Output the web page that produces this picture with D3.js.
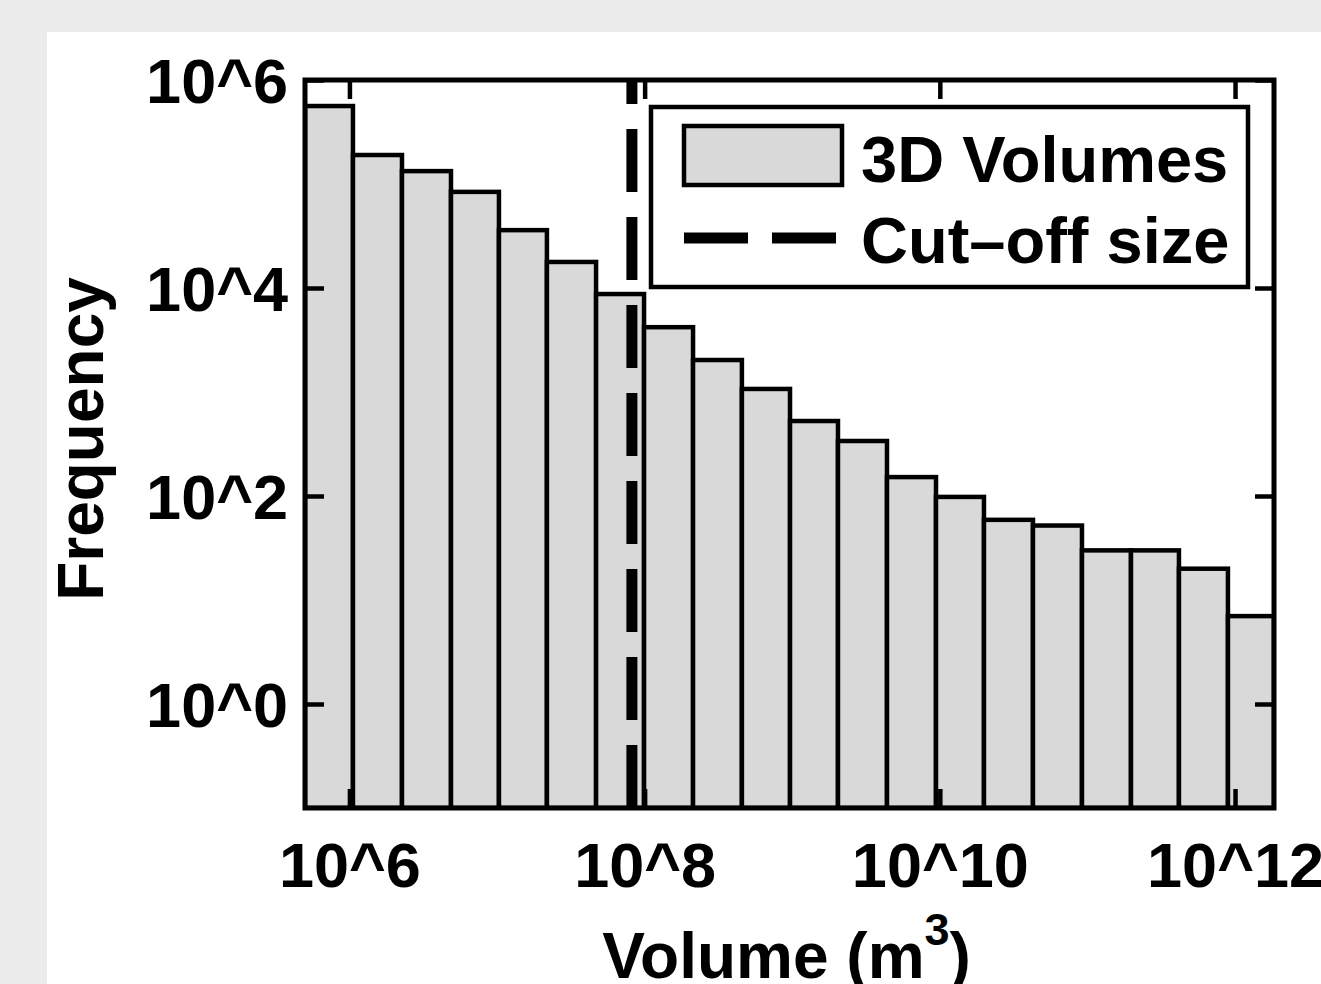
<!DOCTYPE html>
<html>
<head>
<meta charset="utf-8">
<script src="https://cdn.jsdelivr.net/npm/d3@7"></script>
<style>
  html, body { margin: 0; padding: 0; background: #ebebeb; }
  svg { display: block; }
  text { font-family: "Liberation Sans", Arial, Helvetica, sans-serif; font-weight: bold; fill: #000; }
</style>
</head>
<body>
<div id="chart"></div>
<script>
// Histogram bin edges, as log10 of volume (m^3)
const binEdges = [5.699, 6.024, 6.356, 6.688, 7.013, 7.338, 7.671, 7.996, 8.328, 8.659,
                  8.985, 9.310, 9.642, 9.974, 10.299, 10.631, 10.963, 11.295, 11.620, 11.952, 12.264];
// Frequency of each bin
const counts = [562000, 190000, 133000, 84000, 36000, 17800, 8750, 4200, 2030, 1070,
                526, 338, 152, 98, 59, 52, 30, 30, 20, 7];
// Cut-off size (m^3)
const cutoff = 8.2e7;
// Axis ticks
const xTicks = [1e6, 1e8, 1e10, 1e12];
const yTicks = [1e0, 1e2, 1e4, 1e6];
const xDomain = [Math.pow(10, 5.699), Math.pow(10, 12.264)];
const yDomain = [0.1, 1e6];

const W = 1321, H = 984;
const margin = { top: 80, right: 47, bottom: 176, left: 305 };
const width = W - margin.left - margin.right;
const height = H - margin.top - margin.bottom;

const svg = d3.select('#chart')
    .append('svg')
    .attr('width', W)
    .attr('height', H);

// Grey page with white figure panel
svg.append('rect').attr('width', W).attr('height', H).attr('fill', '#ebebeb');
svg.append('rect').attr('x', 47).attr('y', 32).attr('width', W).attr('height', H).attr('fill', '#fff');

const g = svg.append('g')
    .attr('transform', `translate(${margin.left},${margin.top})`);

const x = d3.scaleLog().domain(xDomain).range([0, width]);
const y = d3.scaleLog().domain(yDomain).range([height, 0]);

g.append('clipPath').attr('id', 'plot-clip')
    .append('rect').attr('width', width).attr('height', height);

const bins = counts.map((c, i) => ({ x0: Math.pow(10, binEdges[i]), x1: Math.pow(10, binEdges[i + 1]), n: c }));

// Bars
g.append('g')
    .attr('clip-path', 'url(#plot-clip)')
    .selectAll('rect')
    .data(bins)
    .enter()
    .append('rect')
    .attr('x', d => x(d.x0))
    .attr('width', d => x(d.x1) - x(d.x0))
    .attr('y', d => y(d.n))
    .attr('height', d => height - y(d.n))
    .attr('fill', '#d9d9d9')
    .attr('stroke', '#000')
    .attr('stroke-width', 4.5);

// Cut-off line, dashes start from the bottom
g.append('line')
    .attr('x1', x(cutoff)).attr('x2', x(cutoff))
    .attr('y1', height).attr('y2', 0)
    .attr('stroke', '#000')
    .attr('stroke-width', 11)
    .attr('stroke-dasharray', '63,25');

// Axes (ticks pointing inward on all four sides)
const fmt = d => '10^' + Math.round(Math.log10(d));
const tickLen = 19;

const xAxis = g.append('g')
    .attr('transform', `translate(0,${height})`)
    .call(d3.axisBottom(x).tickValues(xTicks).tickFormat(fmt)
        .tickSizeInner(-tickLen).tickSizeOuter(0).tickPadding(34));
const xAxisTop = g.append('g')
    .call(d3.axisTop(x).tickValues(xTicks).tickFormat('')
        .tickSizeInner(-tickLen).tickSizeOuter(0));
const yAxis = g.append('g')
    .call(d3.axisLeft(y).tickValues(yTicks).tickFormat(fmt)
        .tickSizeInner(-tickLen).tickSizeOuter(0).tickPadding(17));
const yAxisRight = g.append('g')
    .attr('transform', `translate(${width},0)`)
    .call(d3.axisRight(y).tickValues(yTicks).tickFormat('')
        .tickSizeInner(-tickLen).tickSizeOuter(0));

[xAxis, xAxisTop, yAxis, yAxisRight].forEach(a => {
    a.select('.domain').remove();
    a.selectAll('.tick line').attr('stroke', '#000').attr('stroke-width', 4.5);
    a.selectAll('.tick text')
        .attr('font-size', 63)
        .attr('font-family', '"Liberation Sans", Arial, sans-serif')
        .attr('font-weight', 'bold')
        .attr('fill', '#000');
});
yAxis.selectAll('.tick text').attr('dy', '0.36em');

// Frame
g.append('rect')
    .attr('width', width).attr('height', height)
    .attr('fill', 'none')
    .attr('stroke', '#000')
    .attr('stroke-width', 5);

// Axis labels
const xLabel = svg.append('text')
    .attr('x', margin.left + width / 2 - 3)
    .attr('y', 978)
    .attr('text-anchor', 'middle')
    .attr('font-size', 64);
xLabel.append('tspan').text('Volume (m');
xLabel.append('tspan').attr('font-size', 45).attr('dy', -33).text('3');
xLabel.append('tspan').attr('dy', 33).text(')');

svg.append('text')
    .attr('transform', `translate(103,${margin.top + height / 2 - 5}) rotate(-90)`)
    .attr('text-anchor', 'middle')
    .attr('font-size', 64)
    .text('Frequency');

// Legend
const legend = svg.append('g');
legend.append('rect')
    .attr('x', 651).attr('y', 107).attr('width', 597).attr('height', 180)
    .attr('fill', '#fff').attr('stroke', '#000').attr('stroke-width', 4.5);
legend.append('rect')
    .attr('x', 684).attr('y', 126).attr('width', 158).attr('height', 59)
    .attr('fill', '#d9d9d9').attr('stroke', '#000').attr('stroke-width', 4.5);
legend.append('line')
    .attr('x1', 684).attr('x2', 836).attr('y1', 238).attr('y2', 238)
    .attr('stroke', '#000').attr('stroke-width', 11)
    .attr('stroke-dasharray', '64,24');
legend.append('text').attr('x', 861).attr('y', 182).attr('font-size', 65).text('3D Volumes');
legend.append('text').attr('x', 861).attr('y', 263).attr('font-size', 65).text('Cut\u2013off size');
</script>
</body>
</html>
